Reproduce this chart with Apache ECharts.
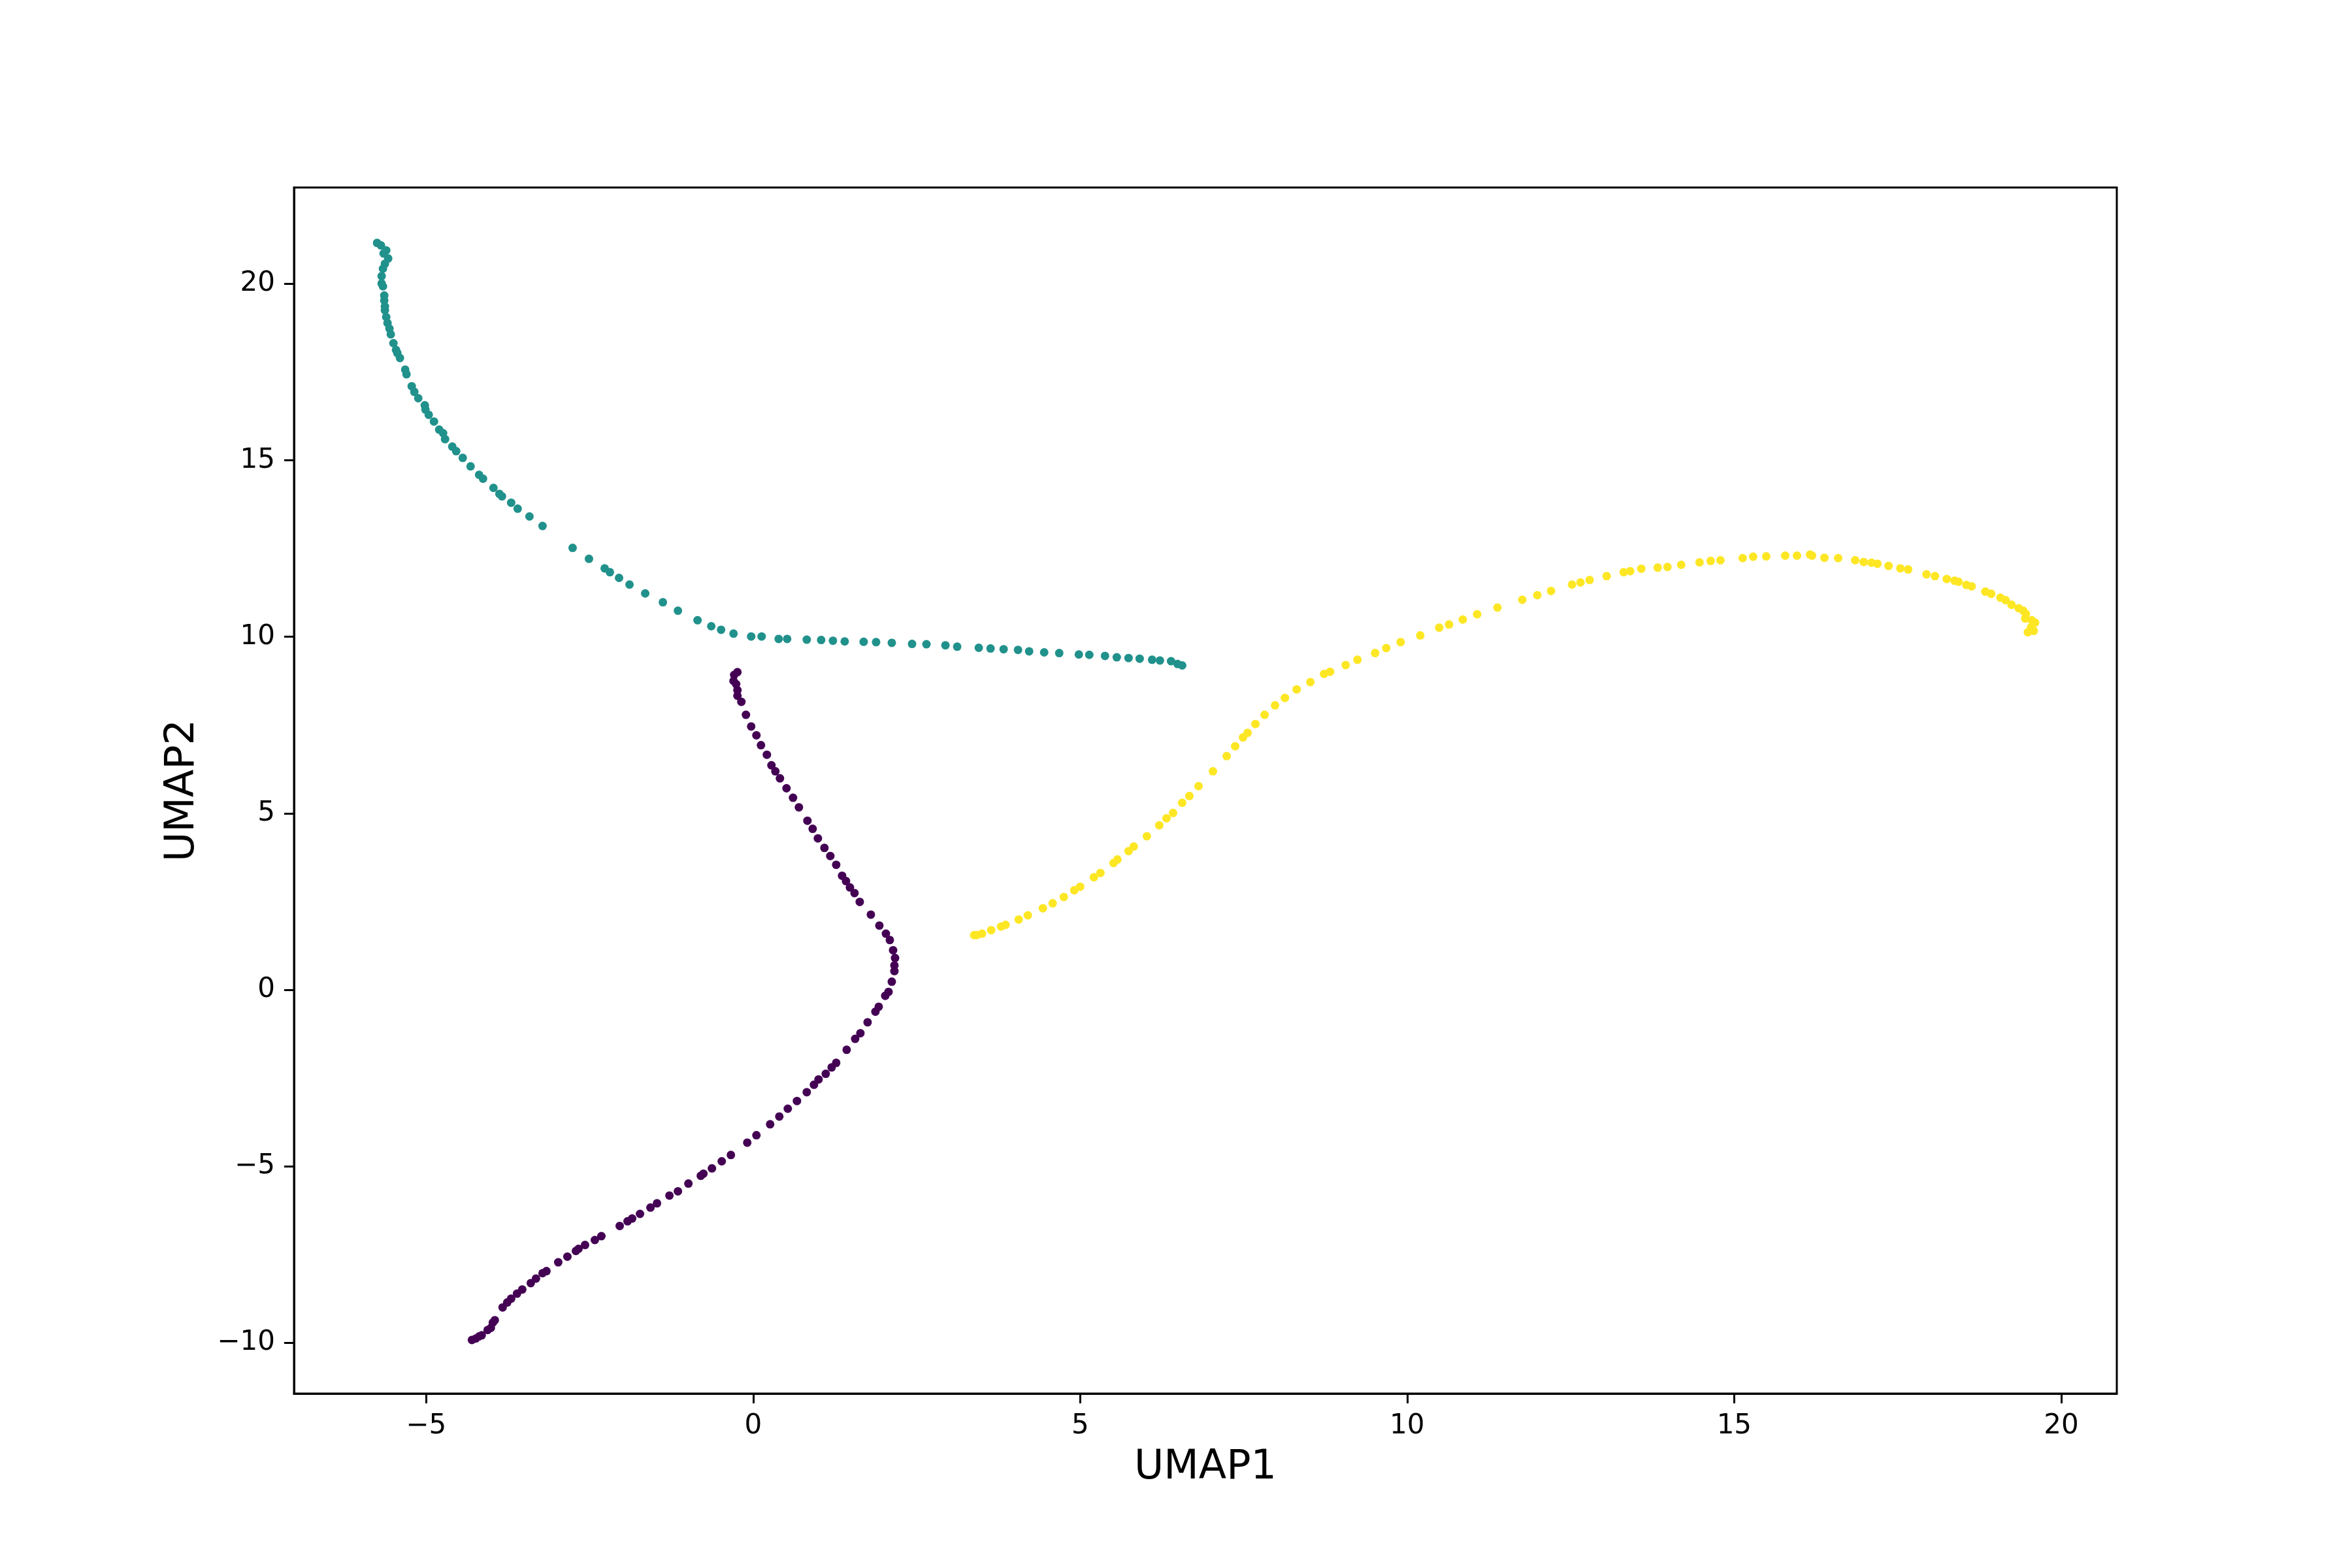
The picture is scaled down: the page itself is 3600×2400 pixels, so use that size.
<!DOCTYPE html>
<html>
<head>
<meta charset="utf-8">
<script src="https://cdn.jsdelivr.net/npm/echarts@6/dist/echarts.min.js"></script>
<style>
  html, body { margin: 0; padding: 0; background: #fff; }
  #chart { width: 3600px; height: 2400px; }
</style>
</head>
<body>
<div id="chart"></div>
<script>
// cluster 0 (dark purple)
var purpleX = [-0.24, -0.29, -0.30, -0.26, -0.24, -0.24, -0.18, -0.11, -0.03, 0.05, 0.12, 0.21, 0.28, 0.34, 0.41, 0.51, 0.61, 0.70, 0.83, 0.91,
  0.99, 1.09, 1.18, 1.27, 1.36, 1.42, 1.48, 1.55, 1.63, 1.80, 1.93, 2.03, 2.09, 2.14, 2.17, 2.16, 2.16, 2.12, 2.07, 2.02,
  1.92, 1.87, 1.75, 1.64, 1.56, 1.43, 1.27, 1.20, 1.11, 1.00, 0.93, 0.82, 0.67, 0.53, 0.40, 0.26, 0.05, -0.09, -0.34, -0.48,
  -0.63, -0.76, -0.80, -0.99, -1.15, -1.28, -1.47, -1.57, -1.73, -1.85, -1.92, -2.04, -2.32, -2.42, -2.57, -2.67, -2.71, -2.84, -2.98, -3.16,
  -3.22, -3.32, -3.40, -3.53, -3.61, -3.70, -3.76, -3.83, -3.95, -3.98, -4.01, -4.06, -4.15, -4.19, -4.24, -4.30];
var purpleY = [9.00, 8.92, 8.75, 8.66, 8.49, 8.33, 8.16, 7.79, 7.46, 7.21, 6.93, 6.66, 6.36, 6.19, 5.99, 5.71, 5.44, 5.17, 4.79, 4.56,
  4.29, 4.02, 3.79, 3.54, 3.23, 3.08, 2.90, 2.74, 2.49, 2.13, 1.82, 1.59, 1.41, 1.12, 0.90, 0.69, 0.53, 0.23, -0.06, -0.17,
  -0.48, -0.62, -0.92, -1.23, -1.39, -1.70, -2.07, -2.20, -2.38, -2.54, -2.69, -2.90, -3.15, -3.37, -3.59, -3.81, -4.12, -4.33, -4.68, -4.86,
  -5.06, -5.21, -5.27, -5.49, -5.71, -5.83, -6.05, -6.17, -6.35, -6.48, -6.56, -6.69, -6.98, -7.09, -7.23, -7.34, -7.40, -7.56, -7.72, -7.97,
  -8.03, -8.18, -8.31, -8.49, -8.61, -8.75, -8.86, -9.00, -9.36, -9.43, -9.58, -9.64, -9.79, -9.82, -9.88, -9.92];

// cluster 1 (teal)
var tealX = [-5.75, -5.69, -5.65, -5.61, -5.58, -5.63, -5.66, -5.68, -5.68, -5.66, -5.64, -5.64, -5.63, -5.63, -5.61, -5.59, -5.56, -5.54, -5.50, -5.46,
  -5.44, -5.40, -5.32, -5.30, -5.22, -5.18, -5.12, -5.02, -5.01, -4.96, -4.88, -4.80, -4.74, -4.71, -4.60, -4.54, -4.44, -4.32, -4.19, -4.13,
  -3.97, -3.88, -3.84, -3.70, -3.60, -3.42, -3.22, -2.76, -2.51, -2.27, -2.19, -2.05, -1.89, -1.65, -1.38, -1.15, -0.85, -0.64, -0.49, -0.30,
  -0.03, 0.13, 0.39, 0.52, 0.82, 1.04, 1.22, 1.40, 1.69, 1.88, 2.12, 2.43, 2.65, 2.94, 3.12, 3.45, 3.63, 3.83, 4.05, 4.22,
  4.45, 4.68, 4.98, 5.14, 5.38, 5.56, 5.74, 5.91, 6.10, 6.22, 6.39, 6.49, 6.56];
var tealY = [21.16, 21.09, 20.86, 20.95, 20.72, 20.57, 20.43, 20.22, 20.01, 19.93, 19.67, 19.53, 19.36, 19.25, 19.06, 18.89, 18.73, 18.57, 18.32, 18.13,
  18.04, 17.90, 17.57, 17.44, 17.10, 16.94, 16.76, 16.56, 16.44, 16.29, 16.10, 15.87, 15.77, 15.60, 15.39, 15.26, 15.07, 14.83, 14.59, 14.48,
  14.22, 14.05, 13.98, 13.80, 13.63, 13.41, 13.14, 12.52, 12.21, 11.94, 11.83, 11.67, 11.48, 11.23, 10.98, 10.74, 10.47, 10.30, 10.20, 10.09,
  10.01, 10.01, 9.94, 9.94, 9.92, 9.91, 9.89, 9.87, 9.86, 9.85, 9.83, 9.80, 9.79, 9.76, 9.72, 9.69, 9.67, 9.65, 9.63, 9.59,
  9.56, 9.54, 9.50, 9.49, 9.46, 9.42, 9.40, 9.38, 9.35, 9.33, 9.31, 9.23, 9.19];

// cluster 2 (yellow)
var yellowX = [3.38, 3.42, 3.50, 3.64, 3.79, 3.86, 4.06, 4.20, 4.43, 4.58, 4.75, 4.91, 5.00, 5.21, 5.31, 5.51, 5.57, 5.74, 5.82, 6.02,
  6.21, 6.32, 6.42, 6.56, 6.67, 6.81, 7.03, 7.24, 7.37, 7.49, 7.56, 7.68, 7.82, 7.98, 8.13, 8.31, 8.52, 8.73, 8.82, 9.06,
  9.24, 9.51, 9.68, 9.90, 10.20, 10.49, 10.64, 10.85, 11.07, 11.38, 11.76, 11.99, 12.20, 12.52, 12.65, 12.79, 13.05, 13.31, 13.41, 13.58,
  13.83, 13.98, 14.19, 14.47, 14.64, 14.79, 15.13, 15.29, 15.49, 15.78, 15.96, 16.16, 16.19, 16.38, 16.59, 16.85, 16.98, 17.10, 17.19, 17.36,
  17.54, 17.66, 17.94, 18.07, 18.25, 18.37, 18.43, 18.55, 18.63, 18.84, 18.93, 19.07, 19.15, 19.24, 19.35, 19.42, 19.46, 19.45, 19.55, 19.60,
  19.54, 19.58, 19.49];
var yellowY = [1.55, 1.55, 1.59, 1.69, 1.79, 1.84, 1.99, 2.11, 2.31, 2.45, 2.63, 2.82, 2.92, 3.19, 3.31, 3.59, 3.69, 3.93, 4.06, 4.35,
  4.66, 4.86, 5.01, 5.30, 5.49, 5.77, 6.19, 6.62, 6.90, 7.15, 7.28, 7.53, 7.79, 8.06, 8.27, 8.51, 8.72, 8.95, 9.01, 9.20,
  9.35, 9.54, 9.68, 9.85, 10.04, 10.26, 10.35, 10.49, 10.64, 10.83, 11.05, 11.18, 11.30, 11.48, 11.54, 11.61, 11.72, 11.83, 11.86, 11.93,
  11.96, 11.98, 12.04, 12.11, 12.15, 12.17, 12.23, 12.27, 12.28, 12.30, 12.30, 12.33, 12.30, 12.24, 12.23, 12.17, 12.12, 12.10, 12.07, 12.01,
  11.94, 11.91, 11.77, 11.72, 11.64, 11.59, 11.56, 11.47, 11.43, 11.28, 11.22, 11.11, 11.04, 10.91, 10.81, 10.74, 10.65, 10.52, 10.47, 10.40,
  10.27, 10.17, 10.13];

var xTicks = [-5, 0, 5, 10, 15, 20];
var yTicks = [-10, -5, 0, 5, 10, 15, 20];

function pairs(xs, ys) {
    var out = [];
    for (var i = 0; i < xs.length; i++) {
        out.push([xs[i], ys[i]]);
    }
    return out;
}

function fmt(v) {
    return v < 0 ? '\u2212' + (-v) : '' + v;
}

var font = 'DejaVu Sans';

var myChart = echarts.init(document.getElementById('chart'));
var option = {
    backgroundColor: '#fff',
    animation: false,
    grid: {
        left: 450,
        right: 360,
        top: 287,
        bottom: 267,
        show: true,
        borderColor: '#000',
        borderWidth: 3,
        backgroundColor: 'transparent'
    },
    xAxis: {
        type: 'value',
        min: -7.02,
        max: 20.85,
        name: 'UMAP1',
        nameLocation: 'middle',
        nameGap: 83,
        nameTextStyle: { fontFamily: font, fontSize: 62, color: '#000' },
        axisLine: { show: true, onZero: false, lineStyle: { color: '#000', width: 3 } },
        axisTick: { show: true, length: 15, customValues: xTicks, lineStyle: { color: '#000', width: 3 } },
        axisLabel: { customValues: xTicks, margin: 29, fontFamily: font, fontSize: 42, color: '#000', formatter: fmt },
        splitLine: { show: false }
    },
    yAxis: {
        type: 'value',
        min: -11.44,
        max: 22.73,
        name: 'UMAP2',
        nameLocation: 'middle',
        nameGap: 139,
        nameTextStyle: { fontFamily: font, fontSize: 62, color: '#000' },
        axisLine: { show: true, onZero: false, lineStyle: { color: '#000', width: 3 } },
        axisTick: { show: true, length: 15, customValues: yTicks, lineStyle: { color: '#000', width: 3 } },
        axisLabel: { customValues: yTicks, margin: 29, fontFamily: font, fontSize: 42, color: '#000', formatter: fmt },
        splitLine: { show: false }
    },
    series: [
        {
            name: 'cluster 0',
            type: 'scatter',
            symbolSize: 13,
            itemStyle: { color: '#440154', opacity: 1 },
            data: pairs(purpleX, purpleY)
        },
        {
            name: 'cluster 1',
            type: 'scatter',
            symbolSize: 13,
            itemStyle: { color: '#21918c', opacity: 1 },
            data: pairs(tealX, tealY)
        },
        {
            name: 'cluster 2',
            type: 'scatter',
            symbolSize: 13,
            itemStyle: { color: '#fde725', opacity: 1 },
            data: pairs(yellowX, yellowY)
        }
    ]
};
myChart.setOption(option);
</script>
</body>
</html>
